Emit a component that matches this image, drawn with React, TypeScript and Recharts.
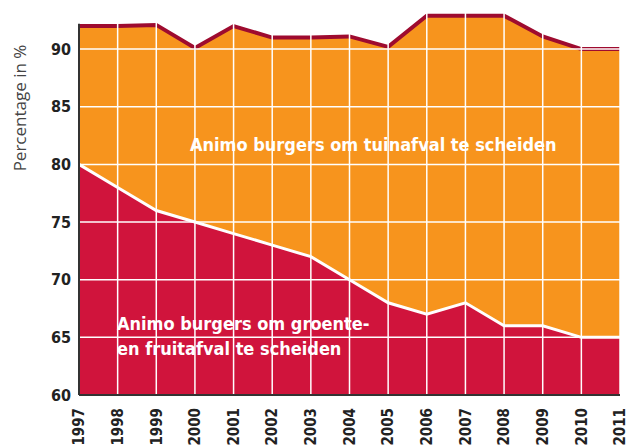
import React from 'react';
import { AreaChart, Area, XAxis, YAxis, ReferenceLine } from 'recharts';

// Jaren en percentages
const years = ['1997', '1998', '1999', '2000', '2001', '2002', '2003', '2004', '2005', '2006', '2007', '2008', '2009', '2010', '2011'];
const groenteFruit = [80, 78, 76, 75, 74, 73, 72, 70, 68, 67, 68, 66, 66, 65, 65];
const tuinafval = [92.0, 92.0, 92.1, 90.1, 92.0, 91.0, 91.0, 91.1, 90.2, 92.9, 92.9, 92.9, 91.1, 90.0, 90.0];
const yTicks = [60, 65, 70, 75, 80, 85, 90];

const data = years.map((year, i) => ({
  year,
  gft: groenteFruit[i],
  tuin: tuinafval[i]
}));

const boldFont = '"DejaVu Sans Condensed", "Liberation Sans Narrow", "DejaVu Sans", sans-serif';

// Rotated year labels under the axis
const YearTick = ({ x, y, payload }: any) => {
  const ty = y + 5;
  return (
    <text
      x={x}
      y={ty}
      transform={`rotate(-90 ${x} ${ty})`}
      textAnchor="end"
      dy="0.35em"
      fill="#222"
      fontSize={15}
      fontWeight="bold"
      fontFamily={boldFont}
    >
      {payload.value}
    </text>
  );
};

const App: React.FC = () => {
  return (
    <div style={{ position: 'absolute', left: 0, top: 0, width: 628, height: 448, background: '#fff', fontFamily: boldFont }}>
      <AreaChart width={628} height={448} data={data} margin={{ top: 3, right: 8, bottom: 0, left: 0 }}>
        <XAxis
          dataKey="year"
          height={53}
          tickLine={false}
          axisLine={{ stroke: '#333', strokeWidth: 2 }}
          tick={<YearTick />}
          interval={0}
        />
        <YAxis
          width={79}
          domain={[60, 94]}
          ticks={yTicks}
          tickLine={false}
          axisLine={false}
          tick={{ fill: '#222', fontSize: 16, fontWeight: 'bold', fontFamily: boldFont }}
        />
        <Area
          type="linear"
          dataKey="tuin"
          fill="#f7941d"
          fillOpacity={1}
          stroke="#9e0b2f"
          strokeWidth={4}
          isAnimationActive={false}
        />
        <Area
          type="linear"
          dataKey="gft"
          fill="#d0143c"
          fillOpacity={1}
          stroke="#ffffff"
          strokeWidth={3}
          isAnimationActive={false}
        />
        {years.slice(1).map((y) => (
          <ReferenceLine key={y} x={y} stroke="#ffffff" strokeWidth={1.5} />
        ))}
        {yTicks.slice(1).map((t) => (
          <ReferenceLine key={t} y={t} stroke="#ffffff" strokeWidth={1.5} />
        ))}
        <ReferenceLine
          segment={[{ x: years[0], y: 60 }, { x: years[0], y: tuinafval[0] + 0.2 }]}
          stroke="#333"
          strokeWidth={2}
        />
      </AreaChart>

      <div
        style={{
          position: 'absolute',
          left: 19,
          top: 108,
          transform: 'translate(-50%, -50%) rotate(-90deg)',
          whiteSpace: 'nowrap',
          fontFamily: '"Open Sans", sans-serif',
          fontSize: 17,
          color: '#444'
        }}
      >
        Percentage in %
      </div>

      <div
        style={{
          position: 'absolute',
          left: 190,
          top: 134,
          color: '#fff',
          fontWeight: 'bold',
          fontSize: 18,
          whiteSpace: 'nowrap'
        }}
      >
        Animo burgers om tuinafval te scheiden
      </div>

      <div
        style={{
          position: 'absolute',
          left: 117,
          top: 311,
          color: '#fff',
          fontWeight: 'bold',
          fontSize: 18,
          lineHeight: '25px',
          whiteSpace: 'nowrap'
        }}
      >
        Animo burgers om groente-
        <br />
        en fruitafval te scheiden
      </div>
    </div>
  );
};

export default App;
